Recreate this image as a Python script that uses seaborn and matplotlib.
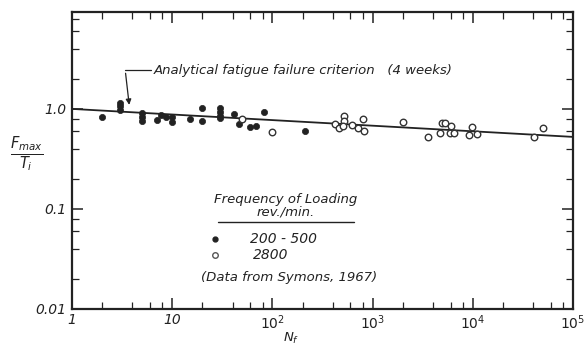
import numpy as np
import pandas as pd
import matplotlib
matplotlib.use("Agg")
import matplotlib.pyplot as plt
import seaborn as sns
from matplotlib.ticker import LogLocator, FixedLocator, NullFormatter

# ---- data ----
n_low = [2, 3, 3, 3, 5, 5, 5, 7, 7.8, 8.7, 10, 10, 15, 20, 20,
         30, 30, 30, 30, 41, 46, 60, 69, 83, 210]
f_low = [0.83, 1.14, 1.07, 0.98, 0.91, 0.83, 0.76, 0.78, 0.87, 0.83, 0.83, 0.74, 0.80, 1.03, 0.75,
         1.03, 0.94, 0.84, 0.81, 0.89, 0.70, 0.665, 0.68, 0.94, 0.60]
n_high = [50, 100, 420, 460, 515, 520, 510, 620, 720, 810, 830, 2000, 3550,
          4900, 5250, 4700, 6000, 5900, 6500, 9800, 9200, 11000, 41000, 50000]
f_high = [0.79, 0.59, 0.71, 0.64, 0.84, 0.75, 0.68, 0.69, 0.65, 0.79, 0.60, 0.74, 0.52,
          0.72, 0.72, 0.58, 0.68, 0.57, 0.57, 0.665, 0.55, 0.56, 0.52, 0.64]
line_n = [1, 1e5]
line_f = [1.0, 0.525]
group_names = ["200 - 500", "2800"]
x_tick_vals = [1, 10, 100, 1000, 10000, 100000]
x_tick_labels = ["1", "10", r"$10^2$", r"$10^3$", r"$10^4$", r"$10^5$"]
y_tick_vals = [0.01, 0.1, 1.0]
y_tick_labels = ["0.01", "0.1", "1.0"]

df = pd.DataFrame({
    "N": n_low + n_high,
    "F": f_low + f_high,
    "group": [group_names[0]] * len(n_low) + [group_names[1]] * len(n_high),
})
line_df = pd.DataFrame({"N": line_n, "F": line_f})

sns.set_theme(style="ticks")
plt.rcParams["font.family"] = ["DejaVu Sans"]
plt.rcParams["mathtext.default"] = "it"
ink = "#222222"

fig = plt.figure(figsize=(5.85, 3.47), dpi=100)
ax = fig.add_axes([72 / 585, (347 - 309) / 347, (573 - 72) / 585, (309 - 12) / 347])
ax.set_xscale("log")
ax.set_yscale("log")

sns.lineplot(data=line_df, x="N", y="F", ax=ax, color=ink, lw=1.3, legend=False)

low = df[df.group == group_names[0]]
high = df[df.group == group_names[1]]
sns.scatterplot(data=low, x="N", y="F", ax=ax, color=ink, s=20, edgecolor=ink,
                linewidth=0.5, legend=False, zorder=3)
sns.scatterplot(data=high, x="N", y="F", ax=ax, facecolor="white", s=22, edgecolor="#333333",
                linewidth=1.0, legend=False, zorder=3)

ax.set_xlim(1, 1e5)
ax.set_ylim(0.01, 9.3)

ax.xaxis.set_major_locator(FixedLocator(x_tick_vals))
ax.set_xticklabels(x_tick_labels, fontstyle="italic")
ax.xaxis.set_minor_locator(LogLocator(base=10, subs=[2, 4, 6, 8]))
ax.xaxis.set_minor_formatter(NullFormatter())
ax.yaxis.set_major_locator(FixedLocator(y_tick_vals))
ax.set_yticklabels(y_tick_labels, fontstyle="italic")
ax.yaxis.set_minor_locator(LogLocator(base=10, subs=[2, 4, 6, 8]))
ax.yaxis.set_minor_formatter(NullFormatter())

ax.tick_params(which="both", direction="in", top=True, right=True, colors=ink,
               labelsize=10, pad=4)
ax.tick_params(axis="x", which="major", pad=3)
ax.tick_params(which="major", length=8, width=1.1)
ax.tick_params(which="minor", length=5, width=0.9)
for sp in ax.spines.values():
    sp.set_linewidth(1.6)
    sp.set_color(ink)

ax.set_xlabel(r"$N_f$", fontsize=9.5, color=ink, va="center")
ax.xaxis.set_label_coords(0.437, -0.1)
ax.set_ylabel(r"$\frac{F_{max}}{T_i}$", fontsize=15, color=ink, rotation=0,
              va="center", ha="center")
ax.yaxis.set_label_coords(-0.09, 0.52)

# annotation for the criterion line
ax.text(6.5, 2.42, "Analytical fatigue failure criterion   (4 weeks)",
        fontsize=9.5, fontstyle="italic", color=ink, va="center", ha="left")
ax.plot([3.4, 6.1], [2.42, 2.42], color=ink, lw=0.9)
ax.annotate("", xy=(3.75, 1.03), xytext=(3.4, 2.42),
            arrowprops=dict(arrowstyle="-|>", color=ink, lw=0.9, mutation_scale=8))

# legend block drawn as text (figure pixel coordinates)
def fxy(px, py):
    return px / 585, 1 - py / 347

fig.text(*fxy(286, 200), "Frequency of Loading", fontsize=9.5, fontstyle="italic",
         color=ink, ha="center", va="center")
fig.text(*fxy(286, 212), "rev./min.", fontsize=9.5, fontstyle="italic",
         color=ink, ha="center", va="center")
fig.add_artist(plt.Line2D([218 / 585, 354 / 585], [1 - 222 / 347, 1 - 222 / 347],
                          color=ink, lw=1.0))
fig.add_artist(plt.Line2D([215 / 585], [1 - 239 / 347], marker="o", markersize=3.5,
                          color=ink, ls="none"))
fig.add_artist(plt.Line2D([215 / 585], [1 - 255 / 347], marker="o", markersize=4,
                          markerfacecolor="white", markeredgecolor="#555555", ls="none"))
fig.text(*fxy(284, 239), group_names[0], fontsize=10, fontstyle="italic",
         color=ink, ha="center", va="center")
fig.text(*fxy(271, 255), group_names[1], fontsize=10, fontstyle="italic",
         color=ink, ha="center", va="center")
fig.text(*fxy(289, 277), "(Data from Symons, 1967)", fontsize=9.5, fontstyle="italic",
         color=ink, ha="center", va="center")

fig.savefig("out.png", dpi=100)
